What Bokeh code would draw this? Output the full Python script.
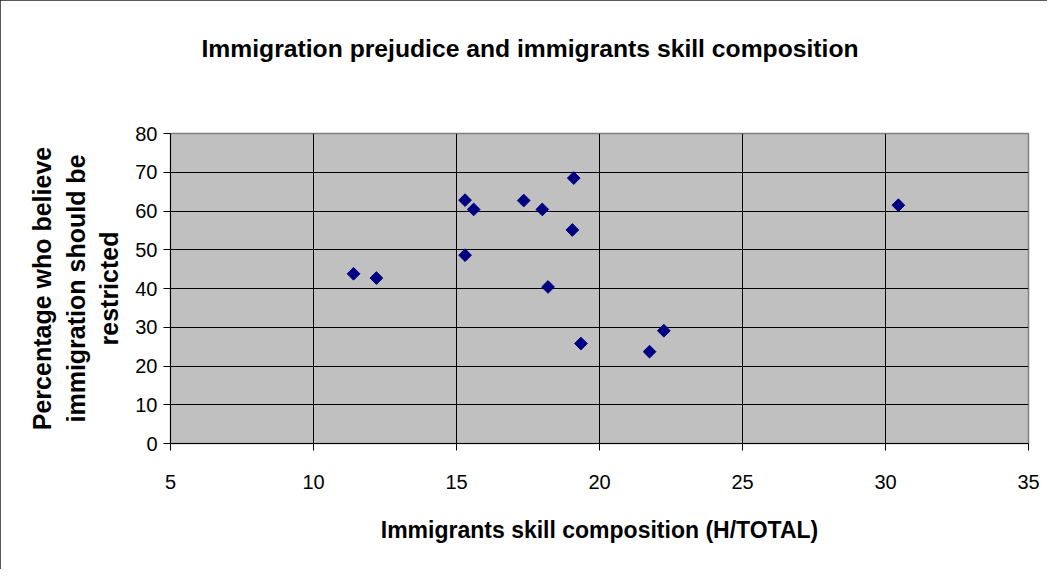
import math
from bokeh.plotting import figure
from bokeh.models import Range1d, FixedTicker, Title
from bokeh.embed import file_html
from bokeh.resources import INLINE

# Data
skill_share = [11.4, 12.2, 15.3, 15.6, 15.3, 17.35, 18.0, 19.1, 19.05, 18.2, 19.35, 21.75, 22.25, 30.45]
restrict_pct = [43.8, 42.7, 62.8, 60.4, 48.6, 62.7, 60.4, 68.5, 55.1, 40.4, 25.8, 23.7, 29.1, 61.5]
x_ticks = [5, 10, 15, 20, 25, 30, 35]
y_ticks = [0, 10, 20, 30, 40, 50, 60, 70, 80]

title_text = "Immigration prejudice and immigrants skill composition"
x_label = "Immigrants skill composition (H/TOTAL)"
y_label = "Percentage who believe\nimmigration should be\nrestricted"

FONT = "Liberation Sans"

p = figure(
    frame_width=858, frame_height=310,
    x_range=Range1d(x_ticks[0], x_ticks[-1]),
    y_range=Range1d(y_ticks[0], y_ticks[-1]),
    output_backend="svg", toolbar_location=None,
    min_border_left=170, min_border_right=19,
    min_border_top=133, min_border_bottom=126,
    background_fill_color="#C0C0C0",
    border_fill_color="white",
)
p.title = None
p.styles = {"outline": "2px solid #222222", "outline-offset": "-2px"}

p.outline_line_color = "#808080"
p.outline_line_width = 1.5

# Spacer between frame and title, then the title itself (stacked outward)
spacer = Title(text=" ", text_font=FONT, text_font_size="10px", standoff=59)
p.add_layout(spacer, "above")
main_title = Title(text=title_text, text_font=FONT, text_font_size="24.7px",
                   text_font_style="bold", align="left", offset=31, standoff=0,
                   vertical_align="bottom", text_color="black")
p.add_layout(main_title, "above")

# Grid
p.xgrid.ticker = FixedTicker(ticks=x_ticks)
p.ygrid.ticker = FixedTicker(ticks=y_ticks)
for g in (p.xgrid, p.ygrid):
    g.grid_line_color = "black"
    g.grid_line_width = 1

# Axes
p.xaxis.ticker = FixedTicker(ticks=x_ticks)
p.yaxis.ticker = FixedTicker(ticks=y_ticks)
for ax in (p.xaxis, p.yaxis):
    ax.axis_line_color = "black"
    ax.axis_line_width = 1
    ax.major_tick_line_color = "black"
    ax.major_tick_in = 0
    ax.major_tick_out = 7
    ax.minor_tick_line_color = None
    ax.major_label_text_font = FONT
    ax.major_label_text_font_size = "20px"
    ax.major_label_text_color = "black"
    ax.axis_label_text_font = FONT
    ax.axis_label_text_font_style = "bold"
    ax.axis_label_text_color = "black"

p.xaxis.axis_label = x_label
p.xaxis.axis_label_text_font_size = "23px"
p.xaxis.major_label_standoff = 24
p.xaxis.axis_label_standoff = 25

p.yaxis.axis_label = y_label
p.yaxis.axis_label_text_font_size = "25px"
p.yaxis.axis_label_text_line_height = 1.2
p.yaxis.major_label_standoff = 6
p.yaxis.axis_label_standoff = 9

# Points: diamonds (rotated squares)
p.scatter(skill_share, restrict_pct, marker="square", size=9, angle=math.pi / 4,
          fill_color="#000080", line_color="#000080", line_width=1)

open("out.html", "w").write(file_html(p, INLINE))
